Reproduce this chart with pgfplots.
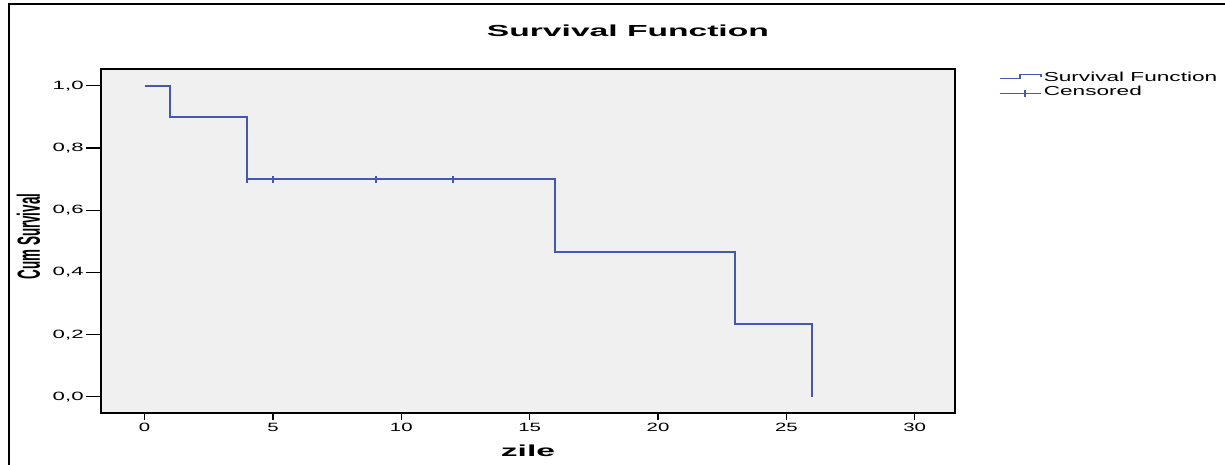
\documentclass[border=0pt]{standalone}
\usepackage{fontspec}
\setmainfont{Liberation Sans}
\newfontfamily\tickfont[FakeStretch=1.7]{Liberation Sans}
\newfontfamily\ytickfont[FakeStretch=1.85]{Liberation Sans}
\newfontfamily\legfont[FakeStretch=1.74]{Liberation Sans}
\newfontfamily\titfont[FakeStretch=2.1]{Liberation Sans}
\newfontfamily\ylabfont[FakeStretch=0.42]{Liberation Sans}
\usepackage{pgfplots}
\pgfplotsset{compat=1.18}
\definecolor{survblue}{RGB}{68,88,178}
\definecolor{panel}{RGB}{240,240,240}
\begin{document}
\begin{tikzpicture}
\useasboundingbox (0pt,0pt) rectangle (612.5pt,-232.5pt);
\draw[line width=1.3pt] (4.5pt,-240pt) -- (4.5pt,-2pt) -- (620pt,-2pt);
\begin{axis}[
  at={(50.5pt,-206.5pt)}, anchor=south west,
  scale only axis, width=427pt, height=172pt,
  xmin=-1.70, xmax=31.57, ymin=-0.052, ymax=1.054,
  axis background/.style={fill=panel},
  axis line style={black, line width=0.7pt},
  tick align=outside, tick pos=left,
  major tick length=3.5pt,
  ytick style={/pgfplots/major tick length=7.5pt, line width=0.6pt, black},
  xtick style={line width=0.6pt, black},
  xtick={0,5,...,30}, ytick={0,0.2,...,1.0},
  /pgf/number format/assume math mode=true,
  xticklabel style={font=\tickfont\fontsize{6}{7}\selectfont, inner sep=1pt, yshift=-0.5pt},
  yticklabel style={font=\ytickfont\fontsize{6}{7}\selectfont, inner sep=1pt, xshift=-4pt, /pgf/number format/.cd, use comma, fixed, fixed zerofill, precision=1},
  xlabel={zile},
  xlabel style={font=\titfont\bfseries\fontsize{8}{9}\selectfont, at={(axis description cs:0.5,-0.110)}, anchor=center},
  ylabel={Cum Survival},
  ylabel style={font=\ylabfont\bfseries\fontsize{16}{17}\selectfont, at={(axis description cs:-0.085,0.513)}, anchor=center, rotate=0},
  title={Survival Function},
  title style={font=\titfont\bfseries\fontsize{8}{9}\selectfont, at={(axis description cs:0.617,1.076)}, anchor=center},
  legend style={at={(axis description cs:1.0515,0.999)}, anchor=north west, draw=none, fill=none, inner sep=0pt,
    font=\legfont\fontsize{6.5}{7}\selectfont, row sep=-1pt,
    nodes={inner sep=1pt},
    /tikz/every even column/.append style={column sep=2pt}},
  legend cell align=left,
]
\addplot[survblue, line width=0.9pt, const plot mark left,
  legend image code/.code={\draw[survblue, line width=0.7pt] (0pt,-0.4pt) -- (10pt,-0.4pt) -- (10pt,1.6pt) -- (20.5pt,1.6pt) -- (20.5pt,0.6pt);}]
  coordinates {(0,1) (1,0.9) (4,0.7) (16,0.4667) (23,0.2333) (26,0)};
\addlegendentry{Survival Function}
\addplot[survblue, only marks, mark=|, mark size=1.7pt, mark options={line width=1pt},
  legend image code/.code={\draw[survblue, line width=0.7pt] (0pt,-0.6pt) -- (20.5pt,-0.6pt); \draw[survblue, line width=1pt] (12.5pt,-2.5pt) -- (12.5pt,1.3pt);}]
  coordinates {(4,0.7) (5,0.7) (9,0.7) (12,0.7)};
\addlegendentry{Censored}
\end{axis}
\end{tikzpicture}
\end{document}
